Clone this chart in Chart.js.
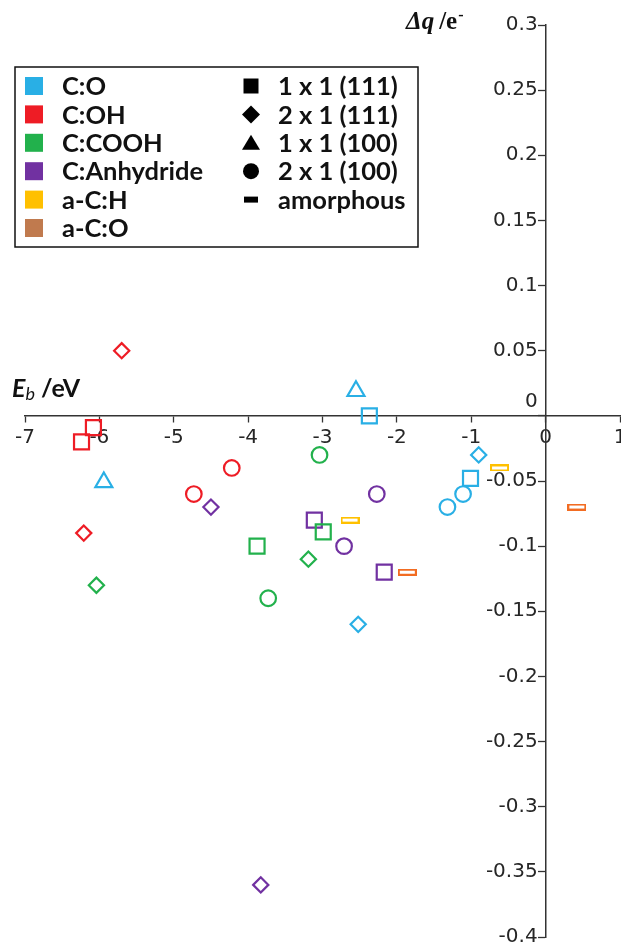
<!DOCTYPE html>
<html>
<head>
    <title>Charge transfer vs binding energy</title>
    <script src="https://cdn.jsdelivr.net/npm/chart.js"></script>
    <style>
        html, body { margin: 0; padding: 0; overflow: hidden; background: #fff; }
        #wrap { position: relative; width: 621px; height: 942px; }
        #chart { display: block; }
    </style>
</head>
<body>
    <div id="wrap"><canvas id="chart"></canvas></div>
    <script>
        // legend entries
        const seriesNames = ['C:O', 'C:OH', 'C:COOH', 'C:Anhydride', 'a-C:H', 'a-C:O'];
        const shapeNames = ['1 x 1 (111)', '2 x 1 (111)', '1 x 1 (100)', '2 x 1 (100)', 'amorphous'];

        // axis ticks
        const xTicks = [-7, -6, -5, -4, -3, -2, -1, 0, 1];
        const yMin = -0.4, yMax = 0.3, yStep = 0.05;

        // shape codes: 0 = 1x1(111), 1 = 2x1(111), 2 = 1x1(100), 3 = 2x1(100), 4 = amorphous
        const coEb = [-2.37, -1.01, -0.90, -2.52, -2.55, -5.94, -1.11, -1.32];
        const coDq = [0.0, -0.048, -0.03, -0.16, 0.019, -0.051, -0.06, -0.07];
        const coShape = [0, 0, 1, 1, 2, 2, 3, 3];

        const ohEb = [-6.08, -6.24, -5.70, -6.21, -4.22, -4.73];
        const ohDq = [-0.009, -0.02, 0.05, -0.09, -0.04, -0.06];
        const ohShape = [0, 0, 1, 1, 3, 3];

        const coohEb = [-2.99, -3.88, -3.19, -6.04, -3.04, -3.73];
        const coohDq = [-0.089, -0.10, -0.11, -0.13, -0.03, -0.14];
        const coohShape = [0, 0, 1, 1, 3, 3];

        const anhEb = [-3.11, -2.17, -4.50, -3.83, -2.27, -2.71];
        const anhDq = [-0.08, -0.12, -0.07, -0.36, -0.06, -0.10];
        const anhShape = [0, 0, 1, 1, 3, 3];

        const achEb = [-0.62, -2.63];
        const achDq = [-0.04, -0.08];
        const achShape = [4, 4];

        const acoEb = [0.42, -1.86];
        const acoDq = [-0.07, -0.12];
        const acoShape = [4, 4];

        // styles
        const pointColors = ['#29afe5', '#ee1c25', '#22b14c', '#7131a1', '#ffc000', '#f26c22'];
        const legendColors = ['#29afe5', '#ee1c25', '#22b14c', '#7131a1', '#ffc000', '#c07a4e'];
        const styleByShape = ['rect', 'rectRot', 'triangle', 'circle', null];
        const radiusByShape = [10.6, 7.6, 9.8, 7.8, 9];

        function dashImage(color) {
            const c = document.createElement('canvas');
            c.width = 19; c.height = 7;
            const g = c.getContext('2d');
            g.strokeStyle = color;
            g.lineWidth = 2;
            g.strokeRect(1, 1, 17, 5);
            return c;
        }

        const allEb = [coEb, ohEb, coohEb, anhEb, achEb, acoEb];
        const allDq = [coDq, ohDq, coohDq, anhDq, achDq, acoDq];
        const allShape = [coShape, ohShape, coohShape, anhShape, achShape, acoShape];

        const datasets = seriesNames.map((name, i) => {
            const dash = dashImage(pointColors[i]);
            return {
                label: name,
                data: allEb[i].map((x, j) => ({ x: x, y: allDq[i][j] })),
                pointStyle: allShape[i].map(s => styleByShape[s] || dash),
                pointRadius: allShape[i].map(s => radiusByShape[s]),
                pointHoverRadius: allShape[i].map(s => radiusByShape[s]),
                borderColor: pointColors[i],
                backgroundColor: 'rgba(0,0,0,0)',
                borderWidth: 2.2,
                showLine: false
            };
        });

        const axisColor = '#333';
        const tickFont = { family: 'DejaVu Sans', size: 20 };

        // y labels sit left of the tick marks; the zero label is lifted above the x axis
        const shiftYLabels = {
            id: 'shiftYLabels',
            beforeDraw(chart) {
                const items = chart.scales.y.getLabelItems();
                if (items._shifted) return;
                items.forEach(it => {
                    it.options.translation[0] -= 8;
                    if (it.label === '0') it.options.translation[1] -= 14;
                });
                items._shifted = true;
            }
        };

        // legend box and axis titles
        const decorations = {
            id: 'decorations',
            afterDraw(chart) {
                const ctx = chart.ctx;
                ctx.save();

                ctx.textAlign = 'left';
                ctx.textBaseline = 'alphabetic';
                ctx.fillStyle = '#111';
                let tx = 406;
                ctx.font = 'italic bold 25px "Liberation Serif"';
                ctx.fillText('\u0394q', tx, 29);
                tx += ctx.measureText('\u0394q').width + 5;
                ctx.font = 'bold 25px "Liberation Serif"';
                ctx.fillText('/e', tx, 29);
                tx += ctx.measureText('/e').width + 1;
                ctx.font = 'bold 16px "Liberation Serif"';
                ctx.fillText('-', tx, 20);

                tx = 12;
                ctx.font = 'italic bold 25px Lato';
                ctx.fillText('E', tx, 397);
                tx += ctx.measureText('E').width;
                ctx.font = 'italic 18px Lato';
                ctx.fillText('b', tx, 400);
                tx += ctx.measureText('b').width + 6;
                ctx.font = 'bold 25px Lato';
                ctx.fillText('/eV', tx, 397);

                // legend
                const bx = 15, by = 67, bw = 403, bh = 180;
                ctx.fillStyle = '#fff';
                ctx.fillRect(bx, by, bw, bh);
                ctx.strokeStyle = '#111';
                ctx.lineWidth = 1.5;
                ctx.strokeRect(bx, by, bw, bh);

                const rowY = i => 86 + i * 28.4;
                ctx.font = 'bold 25.5px Lato';
                ctx.textBaseline = 'middle';
                seriesNames.forEach((name, i) => {
                    ctx.fillStyle = legendColors[i];
                    ctx.fillRect(25, rowY(i) - 9, 18, 18);
                    ctx.fillStyle = '#111';
                    ctx.fillText(name, 62, rowY(i) + 1);
                });
                shapeNames.forEach((name, i) => {
                    const cx = 251, cy = rowY(i);
                    ctx.fillStyle = '#000';
                    ctx.beginPath();
                    if (i === 0) {
                        ctx.rect(cx - 7.5, cy - 7.5, 15, 15);
                    } else if (i === 1) {
                        ctx.moveTo(cx, cy - 9); ctx.lineTo(cx + 9, cy);
                        ctx.lineTo(cx, cy + 9); ctx.lineTo(cx - 9, cy);
                        ctx.closePath();
                    } else if (i === 2) {
                        ctx.moveTo(cx, cy - 8); ctx.lineTo(cx + 9, cy + 7);
                        ctx.lineTo(cx - 9, cy + 7); ctx.closePath();
                    } else if (i === 3) {
                        ctx.arc(cx, cy, 8, 0, Math.PI * 2);
                    } else {
                        ctx.rect(cx - 7, cy - 3, 14, 6);
                    }
                    ctx.fill();
                    ctx.fillStyle = '#111';
                    ctx.fillText(name, 278, cy + 1);
                });
                ctx.restore();
            }
        };

        new Chart(document.getElementById('chart'), {
            type: 'scatter',
            data: { datasets: datasets },
            plugins: [shiftYLabels, decorations],
            options: {
                responsive: true,
                maintainAspectRatio: false,
                animation: false,
                layout: { autoPadding: false, padding: { left: 25, right: 1, top: 25, bottom: 5 } },
                plugins: {
                    legend: { display: false },
                    tooltip: { enabled: false }
                },
                scales: {
                    x: {
                        type: 'linear',
                        position: { y: 0 },
                        min: xTicks[0],
                        max: xTicks[xTicks.length - 1],
                        afterBuildTicks: axis => { axis.ticks = xTicks.map(v => ({ value: v })); },
                        afterFit: axis => { axis.paddingLeft = 0; axis.paddingRight = 0; },
                        grid: { drawOnChartArea: false, color: axisColor, tickLength: 6, tickWidth: 1.3 },
                        border: { color: axisColor, width: 1.5 },
                        ticks: { color: '#262626', font: tickFont, padding: 4, maxRotation: 0,
                                 callback: v => String(v) }
                    },
                    y: {
                        type: 'linear',
                        position: { x: 0 },
                        min: yMin,
                        max: yMax,
                        afterFit: axis => { axis.paddingTop = 0; axis.paddingBottom = 0; },
                        ticks: {
                            stepSize: yStep,
                            color: '#262626',
                            font: tickFont,
                            callback: v => Math.abs(v) < 1e-9 ? '0' : String(+v.toFixed(2))
                        },
                        grid: { drawOnChartArea: false, color: axisColor, tickLength: 7, tickWidth: 1.3 },
                        border: { color: axisColor, width: 1.5 }
                    }
                }
            }
        });
    </script>
</body>
</html>
